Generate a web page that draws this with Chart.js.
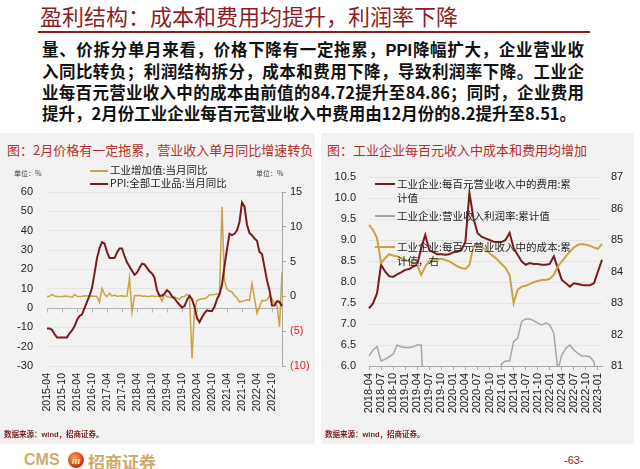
<!DOCTYPE html>
<html lang="zh-CN">
<head>
<meta charset="UTF-8">
<title>盈利结构：成本和费用均提升，利润率下降</title>
<script src="https://cdn.jsdelivr.net/npm/chart.js@4.4.0/dist/chart.umd.min.js"></script>
<style>
    * { margin: 0; padding: 0; box-sizing: border-box; }
    body {
        width: 640px; height: 469px; position: relative; overflow: hidden;
        background: #fff; font-family: "Noto Sans CJK SC", sans-serif;
    }
    .abs { position: absolute; white-space: nowrap; }
    #title { left: 40px; top: 1px; font-size: 22px; line-height: 28px; color: #8e1c1f; }
    #rule { left: 38px; top: 31px; width: 552px; height: 2px; background: #8e1c1f; }
    #para { left: 42px; top: 39px; width: 542px; font-size: 16.5px; line-height: 21px; font-weight: bold; color: #111; }
    #para div { text-align: justify; text-align-last: justify; white-space: nowrap; }
    #para div.last { text-align-last: left; }
    .panel { position: absolute; top: 133px; height: 311px; background: #f2f2f2; }
    .ptitle { font-size: 13px; line-height: 18px; color: #b2302c; top: 141px; }
    .unit { font-size: 7px; color: #444; top: 168px; }
    .leg { font-size: 10.5px; line-height: 14px; color: #222; }
    .sw { position: absolute; height: 2px; }
    .src { font-size: 7.5px; color: #7a1c1c; top: 428px; font-weight: bold; }
    .src b { font-family: "Liberation Sans", Arial, sans-serif; }
    canvas { position: absolute; }
</style>
</head>
<body>
<div id="title" class="abs">盈利结构：成本和费用均提升，利润率下降</div>
<div id="rule" class="abs"></div>
<div id="para" class="abs">
    <div>量、价拆分单月来看，价格下降有一定拖累，<span style="font-family:'Liberation Sans',Arial">PPI</span>降幅扩大，企业营业收</div>
    <div>入同比转负；利润结构拆分，成本和费用下降，导致利润率下降。工业企</div>
    <div>业每百元营业收入中的成本由前值的84.72提升至84.86；同时，企业费用</div>
    <div class="last">提升，2月份工业企业每百元营业收入中费用由12月份的8.2提升至8.51。</div>
</div>

<div class="panel" style="left:0;width:315px"></div>
<div class="panel" style="left:321px;width:313px"></div>

<div class="abs ptitle" style="left:7px">图：2月价格有一定拖累，营业收入单月同比增速转负</div>
<div class="abs ptitle" style="left:327px">图：工业企业每百元收入中成本和费用均增加</div>

<!-- left chart -->
<canvas id="leftChart" width="318" height="244" style="left:0;top:186px"></canvas>
<div class="abs unit" style="left:14px">单位：%</div>
<div class="abs unit" style="left:256px">单位：%</div>
<div class="sw" style="left:90px;top:170px;width:18px;background:#c8a443"></div>
<div class="abs leg" style="left:110px;top:163px">工业增加值:当月同比</div>
<div class="sw" style="left:90px;top:183px;width:18px;background:#7b1a1c"></div>
<div class="abs leg" style="left:110px;top:176px">PPI:全部工业品:当月同比</div>

<!-- right chart -->
<canvas id="rightChart" width="318" height="260" style="left:322px;top:170px"></canvas>
<div class="sw" style="left:375px;top:183px;width:20px;background:#7b1a1c"></div>
<div class="abs leg" style="left:397px;top:177px">工业企业:每百元营业收入中的费用:累<br>计值</div>
<div class="sw" style="left:375px;top:215px;width:20px;height:1.5px;background:#a6a6a6"></div>
<div class="abs leg" style="left:397px;top:209px">工业企业:营业收入利润率:累计值</div>
<div class="sw" style="left:375px;top:246px;width:20px;background:#c8a443"></div>
<div class="abs leg" style="left:397px;top:240px">工业企业:每百元营业收入中的成本:累<br>计值，右</div>

<div class="abs src" style="left:4px">数据来源：<b>wind</b>，招商证券。</div>
<div class="abs src" style="left:325px">数据来源：<b>wind</b>，招商证券。</div>

<!-- footer -->
<div class="abs" style="left:24px;top:451px;font-family:'Liberation Sans',Arial;font-weight:bold;font-size:16px;color:#d2aa6c">CMS</div>
<div class="abs" style="left:68px;top:452px;width:16px;height:16px;border-radius:50%;background:radial-gradient(circle at 40% 35%,#f7a04a,#c8321e 70%);color:#ffe9a0;font:italic bold 11px/16px 'Liberation Serif',serif;text-align:center">m</div>
<div class="abs" style="left:88px;top:449px;font-size:17px;font-weight:bold;color:#cfa86c">招商证券</div>
<div class="abs" style="left:564px;top:454px;font-family:'Liberation Sans',Arial;font-size:11px;color:#9b1b1b">-63-</div>

<script>
    // 月份标签
    function monthRange(start, end) {
        const out = [];
        let [y, m] = start.split('-').map(Number);
        const [ey, em] = end.split('-').map(Number);
        while (y < ey || (y === ey && m <= em)) {
            out.push(y + '-' + String(m).padStart(2, '0'));
            m++; if (m > 12) { m = 1; y++; }
        }
        return out;
    }

    // 左图: 2015-04 ~ 2023-02
    const leftMonths = monthRange('2015-04', '2023-02');
    // 工业增加值:当月同比 (左轴)
    const valueAdded = [
        6.0, 6.1, 7.0, 6.2, 6.0, 5.9, 5.8, 6.2, 6.1,
        6.0, 5.5, 7.0, 6.1, 6.0, 6.1, 6.3, 6.2, 6.1, 6.2, 6.1, 6.0,
        2.9, 10.2, 7.1, 5.9, 7.6, 6.2, 6.7, 6.1, 6.2, 6.3, 6.1, 6.2,
        15.7, -2.2, 6.4, 6.3, 6.6, 6.1, 6.2, 6.0, 5.9, 6.3, 6.0, 6.1,
        6.2, 3.6, 7.1, 5.8, 5.6, 5.3, 5.7, 5.1, 4.5, 5.8, 5.9, 7.1,
        6.0, -26.0, -1.1, 3.9, 4.4, 4.8, 4.8, 5.6, 6.9, 6.9, 7.0, 7.3,
        7.5, 52.4, 14.1, 9.8, 8.8, 8.3, 6.4, 5.3, 3.1, 3.5, 3.8, 4.3,
        4.0, 12.8, 5.0, -2.8, 0.7, 3.9, 3.8, 4.2, 6.3, 5.0, 2.2, 1.3,
        -9.7, 18.4
    ];
    // PPI:全部工业品:当月同比 (右轴)
    const ppi = [
        -4.6, -4.6, -4.8, -5.4, -5.9, -5.9, -5.9, -5.9, -5.9,
        -5.3, -4.9, -4.3, -3.4, -2.8, -2.6, -1.7, -0.8, 0.1, 1.2, 3.3, 5.5,
        6.9, 7.8, 7.6, 6.4, 5.5, 5.5, 5.5, 6.3, 6.9, 6.9, 5.8, 4.9,
        4.3, 3.7, 3.1, 3.4, 4.1, 4.7, 4.6, 4.1, 3.6, 3.3, 2.7, 0.9,
        0.1, 0.1, 0.4, 0.9, 0.6, 0.0, -0.3, -0.8, -1.2, -1.6, -1.4, -0.5,
        0.1, -0.4, -1.5, -3.1, -3.7, -3.0, -2.4, -2.0, -2.1, -2.1, -1.5, -0.4,
        0.3, 1.7, 4.4, 6.8, 9.0, 8.8, 9.0, 9.5, 10.7, 13.5, 12.9, 10.3,
        9.1, 8.8, 8.3, 8.0, 6.4, 6.1, 4.2, 2.3, 0.9, -1.3, -1.3, -0.7,
        -0.8, -1.4
    ];

    // 右图: 2018-04 ~ 2023-02
    const rightMonths = monthRange('2018-04', '2023-02');
    // 每百元营业收入中的费用:累计值 (左轴)
    const feePer100 = [
        7.37, 7.49, 7.73, 8.41, 8.25, 8.14, 8.12, 8.18, 8.23,
        8.29, 8.31, 8.37, 8.41, 8.81, 9.12, 8.76, 8.71, 8.66, 8.66, 8.65, 8.66,
        8.71, 8.72, 8.76, 8.96, 10.12, 9.52, 9.17, 9.08, 9.04, 9.00, 8.96, 8.95,
        8.95, 9.00, 9.17, 8.81, 8.65, 8.49, 8.41, 8.45, 8.43, 8.43, 8.41, 8.41,
        8.43, 8.61, 8.33, 8.05, 7.97, 7.89, 7.97, 7.95, 7.93, 7.92, 7.92, 7.97,
        8.25, 8.53
    ];
    // 营业收入利润率:累计值 (左轴, 低于6.0的部分被坐标轴截断)
    const profitRate = [
        6.24, 6.38, 6.46, 6.12, 6.16, 6.22, 6.28, 6.50, 6.46,
        6.44, 6.44, 6.46, 6.50, 6.50, 4.50, 5.60, 5.70, 5.80, 5.80, 5.70, 5.60,
        5.50, 4.60, 4.70, 5.00, 5.20, 5.40, 5.50, 5.60, 5.70, 5.80, 5.60, 5.00,
        6.05, 6.12, 6.12, 6.58, 6.66, 7.06, 7.12, 7.12, 7.08, 7.02, 6.98, 7.02,
        6.98, 6.78, 5.90, 6.26, 6.42, 6.50, 6.38, 6.30, 6.24, 6.24, 6.22, 6.10,
        5.50, 4.50
    ];
    // 每百元营业收入中的成本:累计值 (右轴)
    const costPer100 = [
        85.48, 85.32, 85.06, 84.27, 84.42, 84.55, 84.51, 84.48, 84.42,
        84.37, 84.32, 84.27, 84.21, 83.89, 84.16, 84.32, 84.37, 84.37, 84.40, 84.37, 84.32,
        84.24, 84.16, 84.11, 84.08, 84.21, 84.79, 84.82, 84.79, 84.69, 84.58, 84.48, 84.37,
        84.24, 84.11, 83.89, 82.99, 83.42, 83.52, 83.55, 83.60, 83.66, 83.70, 83.73, 83.73,
        83.77, 83.89, 84.16, 84.32, 84.48, 84.63, 84.76, 84.85, 84.87, 84.85, 84.82, 84.76,
        84.72, 84.88
    ];

    const GOLD = '#c8a443';
    const MAROON = '#7b1a1c';
    const GRAY = '#a6a6a6';
    const tickFont = { family: "'Liberation Sans', Arial, sans-serif", size: 11 };

    // 固定坐标轴占位, 去掉标签带来的额外边距
    const fixW = w => s => { s.width = w; s.paddingTop = 0; s.paddingBottom = 0; };
    const fixH = h => s => { s.height = h; s.paddingLeft = 0; s.paddingRight = 0; };

    // 左图零轴上的刻度线
    const zeroAxis = {
        id: 'zeroAxis',
        beforeDatasetsDraw(chart) {
            const { ctx, scales: { x, y } } = chart;
            const y0 = Math.round(y.getPixelForValue(0)) + 0.5;
            ctx.save();
            ctx.strokeStyle = '#b4b4b4';
            ctx.lineWidth = 1;
            ctx.beginPath();
            ctx.moveTo(x.left, y0);
            ctx.lineTo(x.right, y0);
            for (let i = 0; i < leftMonths.length; i += 6) {
                const px = Math.round(x.getPixelForValue(i)) + 0.5;
                ctx.moveTo(px, y0);
                ctx.lineTo(px, y0 + 4);
            }
            ctx.stroke();
            ctx.restore();
        }
    };

    new Chart(document.getElementById('leftChart'), {
        type: 'line',
        data: {
            labels: leftMonths,
            datasets: [
                { label: '工业增加值:当月同比', data: valueAdded, yAxisID: 'y', borderColor: GOLD, borderWidth: 1.5, pointRadius: 0, order: 2 },
                { label: 'PPI:全部工业品:当月同比', data: ppi, yAxisID: 'y2', borderColor: MAROON, borderWidth: 2, pointRadius: 0, order: 1 }
            ]
        },
        options: {
            responsive: false,
            animation: false,
            layout: { padding: { top: 6, left: 0, right: 0, bottom: 0 } },
            plugins: { legend: { display: false }, tooltip: { enabled: false } },
            scales: {
                x: {
                    grid: { display: false, drawTicks: false },
                    border: { display: false },
                    ticks: {
                        autoSkip: false, maxRotation: 90, minRotation: 90, padding: 7,
                        font: { family: tickFont.family, size: 10.5 }, color: '#222',
                        callback: (v, i) => i % 6 === 0 ? leftMonths[i] : ''
                    },
                    afterFit: fixH(64)
                },
                y: {
                    position: 'left', min: -30, max: 60,
                    ticks: { stepSize: 10, padding: 14, font: tickFont, color: '#222' },
                    grid: { color: '#e3e3e3', drawTicks: false },
                    border: { display: false },
                    afterFit: fixW(47)
                },
                y2: {
                    position: 'right', min: -10, max: 15,
                    ticks: {
                        stepSize: 5, padding: 4, font: tickFont,
                        color: c => c.tick.value < 0 ? '#e8231f' : '#222',
                        callback: v => v < 0 ? '(' + (-v) + ')' : v
                    },
                    grid: { drawOnChartArea: false, drawTicks: true, tickLength: 4, color: '#a8a8a8' },
                    border: { display: true, color: '#a8a8a8' },
                    afterFit: fixW(36)
                }
            }
        },
        plugins: [zeroAxis]
    });

    new Chart(document.getElementById('rightChart'), {
        type: 'line',
        data: {
            labels: rightMonths,
            datasets: [
                { label: '工业企业:每百元营业收入中的费用:累计值', data: feePer100, yAxisID: 'y', borderColor: MAROON, borderWidth: 2, pointRadius: 0, order: 2 },
                { label: '工业企业:营业收入利润率:累计值', data: profitRate, yAxisID: 'y', borderColor: GRAY, borderWidth: 1.5, pointRadius: 0, order: 3 },
                { label: '工业企业:每百元营业收入中的成本:累计值，右', data: costPer100, yAxisID: 'y2', borderColor: GOLD, borderWidth: 2, pointRadius: 0, order: 1 }
            ]
        },
        options: {
            responsive: false,
            animation: false,
            layout: { padding: { top: 7, left: 0, right: 0, bottom: 0 } },
            plugins: { legend: { display: false }, tooltip: { enabled: false } },
            scales: {
                x: {
                    grid: {
                        drawOnChartArea: false, drawTicks: true, tickLength: 4,
                        color: c => c.index % 3 === 0 ? '#a8a8a8' : 'rgba(0,0,0,0)'
                    },
                    border: { display: true, color: '#a8a8a8' },
                    ticks: {
                        autoSkip: false, maxRotation: 90, minRotation: 90, padding: 3,
                        font: tickFont, color: '#222',
                        callback: (v, i) => i % 3 === 0 ? rightMonths[i] : ''
                    },
                    afterFit: fixH(64)
                },
                y: {
                    position: 'left', min: 6, max: 10.5,
                    ticks: { stepSize: 0.5, padding: 13, font: tickFont, color: '#222', callback: v => v.toFixed(1) },
                    grid: { color: '#e3e3e3', drawTicks: false },
                    border: { display: false },
                    afterFit: fixW(47)
                },
                y2: {
                    position: 'right', min: 81, max: 87,
                    ticks: { stepSize: 1, padding: 9, font: tickFont, color: '#222' },
                    grid: { display: false, drawTicks: false },
                    border: { display: false },
                    afterFit: fixW(38)
                }
            }
        }
    });
</script>
</body>
</html>
